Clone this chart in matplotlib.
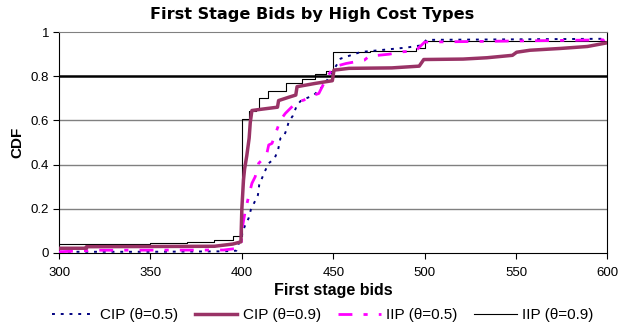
import numpy as np
import matplotlib
matplotlib.use('Agg')
import matplotlib.pyplot as plt

# CDF curves
cip05_x = [300, 350, 390, 397, 398.5, 400, 401.5, 403.7, 404.9, 408.8, 409.5, 412.5, 414.7, 417.9,
           419.8, 421.1, 422.9, 424.7, 425.6, 427.8, 430.2, 432.6, 435.2, 439.4, 444.9, 449.5, 454,
           465, 490, 498, 501, 600]
cip05_y = [0.005, 0.005, 0.007, 0.01, 0.047, 0.08, 0.119, 0.157, 0.195, 0.262, 0.308, 0.368, 0.406, 0.428,
           0.466, 0.519, 0.526, 0.564, 0.594, 0.62, 0.67, 0.692, 0.70, 0.715, 0.76, 0.82, 0.88,
           0.91, 0.93, 0.94, 0.965, 0.97]

cip09_x = [300, 315, 315, 385, 395, 399.5, 400, 400.9, 401.5, 402.7, 404, 404.6, 405.5, 410, 419.5,
           420.1, 425.6, 429.5, 430.2, 440.3, 449.5, 450.4, 458.6, 482, 497, 499.5, 521, 534, 548,
           550.3, 557.6, 574, 589, 600]
cip09_y = [0.021, 0.021, 0.028, 0.03, 0.04, 0.05, 0.2, 0.33, 0.38, 0.44, 0.52, 0.59, 0.645, 0.65, 0.66,
           0.69, 0.705, 0.715, 0.753, 0.768, 0.78, 0.828, 0.836, 0.838, 0.846, 0.876, 0.878, 0.884, 0.895,
           0.909, 0.918, 0.926, 0.935, 0.952]

iip05_x = [300, 320, 390, 397, 399.5, 400.4, 401.8, 403.7, 405.5, 407.3, 409.2, 411.9, 413.7, 414.7,
           416.5, 421.1, 423.8, 425.6, 430.2, 433.9, 436.6, 442.1, 446.7, 450.4, 457, 467, 469.6,
           480.5, 488, 495, 500, 550, 598, 600]
iip05_y = [0.005, 0.012, 0.013, 0.02, 0.03, 0.12, 0.187, 0.255, 0.315, 0.345, 0.406, 0.428, 0.451, 0.489,
           0.496, 0.602, 0.632, 0.647, 0.685, 0.692, 0.707, 0.722, 0.798, 0.843, 0.858, 0.873, 0.891,
           0.90, 0.911, 0.915, 0.955, 0.96, 0.965, 0.985]

iip09_x = [300, 350, 370, 385, 395, 400, 404, 407.5, 409.5, 414.5, 424, 433, 440, 446, 450, 470, 495, 500, 600]
iip09_y = [0.04, 0.045, 0.05, 0.06, 0.075, 0.605, 0.645, 0.65, 0.70, 0.735, 0.768, 0.79, 0.812, 0.825,
           0.908, 0.915, 0.926, 0.961, 0.962]

labels = ['CIP (θ=0.5)', 'CIP (θ=0.9)', 'IIP (θ=0.5)', 'IIP (θ=0.9)']
xticks = [300, 350, 400, 450, 500, 550, 600]
yticks = [0, 0.2, 0.4, 0.6, 0.8, 1]
ytick_labels = ['0', '0.2', '0.4', '0.6', '0.8', '1']

plt.rcParams['font.family'] = ['Liberation Sans', 'DejaVu Sans']

fig = plt.figure(figsize=(6.18, 3.28), dpi=100)
ax = fig.add_axes([0.0955, 0.229, 0.8875, 0.673])

# gridlines, the 0.8 one is drawn heavy
for yv in [0.2, 0.4, 0.6]:
    ax.axhline(yv, color='#808080', lw=1.0, zorder=1)
ax.axhline(0.8, color='black', lw=1.8, zorder=1)

ax.plot(cip05_x, cip05_y, color='#000080', lw=1.4, ls=(0, (1.5, 3)), label=labels[0], zorder=3)
ax.plot(cip09_x, cip09_y, color='#993366', lw=2.5, label=labels[1], zorder=4)
ax.plot(iip05_x, iip05_y, color='#FF00FF', lw=2.0, ls=(0, (5, 4, 1.5, 4)), label=labels[2], zorder=3)
ax.plot(iip09_x, iip09_y, color='black', lw=0.8, drawstyle='steps-post', label=labels[3], zorder=2)

ax.set_xlim(300, 600)
ax.set_ylim(0, 1)
ax.set_xticks(xticks)
ax.set_yticks(yticks)
ax.set_yticklabels(ytick_labels)
ax.tick_params(axis='both', labelsize=9.5, length=4, width=0.8)
ax.tick_params(axis='x', pad=6)
ax.tick_params(axis='y', pad=3)
ax.spines['top'].set_color('#808080')
for s in ['left', 'right', 'bottom']:
    ax.spines[s].set_color('black')
    ax.spines[s].set_linewidth(0.8)

ax.set_xlabel('First stage bids', fontsize=11.5, fontweight='bold', labelpad=3)
ax.set_ylabel('CDF', fontsize=11, fontweight='bold', labelpad=5)
fig.suptitle('First Stage Bids by High Cost Types', fontsize=11.6, fontweight='bold',
             family=['DejaVu Sans'], x=0.505, y=0.98)

fig.legend(loc='center', bbox_to_anchor=(0.522, 0.04), ncol=4, frameon=False, fontsize=11,
           handlelength=2.8, handletextpad=0.35, columnspacing=1.1)

fig.savefig('out.png', dpi=100)
